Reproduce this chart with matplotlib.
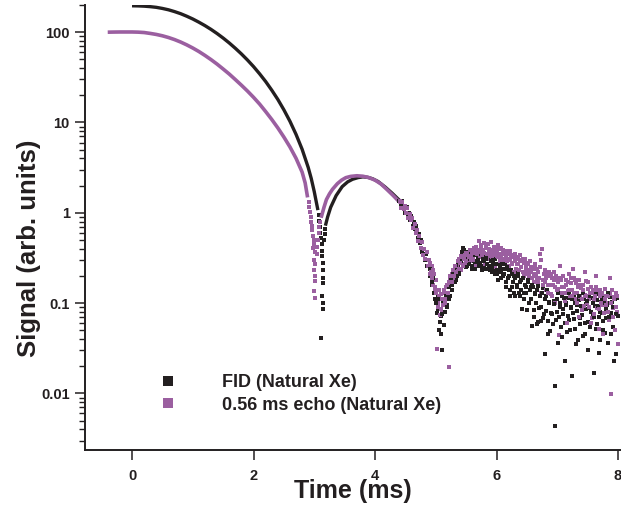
import matplotlib
matplotlib.use("Agg")
import matplotlib.pyplot as plt
from matplotlib.lines import Line2D

plt.rcParams['font.family'] = ['Liberation Sans', 'DejaVu Sans']
plt.rcParams['font.weight'] = 'bold'

BLACK = '#231f20'
PURPLE = '#9b5fa0'

# ---------------- FID (Natural Xe) ----------------
fid_line_t = [0.0, 0.1, 0.2, 0.3, 0.4, 0.5, 0.6, 0.7, 0.8, 0.9, 1.0, 1.1, 1.2, 1.3, 1.4, 1.5,
              1.6, 1.7, 1.8, 1.9, 2.0, 2.1, 2.2, 2.3, 2.4, 2.5, 2.6, 2.7, 2.8, 2.9, 2.95, 3.0,
              3.03, 3.06]
fid_line_y = [196, 195.4, 194.1, 191.7, 188.4, 183.2, 177.0, 169.0, 160.3, 150.3, 140.0, 129.1,
              118.3, 107.4, 96.6, 86.1, 76.0, 66.4, 57.5, 49.2, 41.6, 34.6, 28.4, 22.8, 18.0,
              13.8, 10.3, 7.38, 5.05, 3.18, 2.40, 1.71, 1.35, 1.07]

fid_dip_t = [3.07, 3.08, 3.09, 3.10, 3.11, 3.12, 3.12, 3.13, 3.14, 3.14, 3.15, 3.15,
             3.13, 3.15, 3.14, 3.11, 3.16, 3.17, 3.18]
fid_dip_y = [0.95, 0.82, 0.70, 0.60, 0.52, 0.45, 0.38, 0.33, 0.28, 0.23, 0.19, 0.166,
             0.12, 0.10, 0.085, 0.041, 0.50, 0.58, 0.66]

fid_lobe_t = [3.19, 3.22, 3.27, 3.36, 3.46, 3.55, 3.63, 3.72, 3.80, 3.88, 3.96, 4.05,
              4.17, 4.28, 4.39]
fid_lobe_y = [0.75, 0.90, 1.15, 1.55, 1.95, 2.20, 2.35, 2.45, 2.50, 2.47, 2.38, 2.22,
              1.92, 1.65, 1.40]

fid_noisy_t = [4.40, 4.42, 4.44, 4.46, 4.48, 4.50, 4.52, 4.54, 4.56, 4.58, 4.60, 4.62, 4.64, 4.66, 4.68,
               4.70, 4.72, 4.74, 4.76, 4.78, 4.80, 4.82, 4.84, 4.86, 4.88, 4.90, 4.92, 4.94, 4.96, 4.98,
               5.00, 5.02, 5.04, 5.06, 5.08, 5.10, 5.12, 5.14, 5.16, 5.18, 5.20, 5.22, 5.24, 5.26, 5.28,
               5.30, 5.32, 5.34, 5.36, 5.38, 5.40, 5.42, 5.44, 5.46, 5.48, 5.50, 5.52, 5.54, 5.56, 5.58,
               5.60, 5.62, 5.64, 5.66, 5.68, 5.70, 5.72, 5.74, 5.76, 5.78, 5.80, 5.82, 5.84, 5.86, 5.88,
               5.90, 5.92, 5.94, 5.96, 5.98, 6.00, 6.02, 6.04, 6.06, 6.08, 6.10, 6.12, 6.14, 6.16, 6.18,
               6.20, 6.22, 6.24, 6.26, 6.28, 6.30, 6.32, 6.34, 6.36, 6.38, 6.40, 6.42, 6.44, 6.46, 6.48,
               6.50, 6.52, 6.54, 6.56, 6.58, 6.60, 6.62, 6.64, 6.66, 6.68, 6.70, 6.72, 6.74, 6.76, 6.78,
               6.80, 6.82, 6.84, 6.86, 6.88, 6.90, 6.92, 6.94, 6.96, 6.98, 7.00, 7.02, 7.04, 7.06, 7.08,
               7.10, 7.12, 7.14, 7.16, 7.18, 7.20, 7.22, 7.24, 7.26, 7.28, 7.30, 7.32, 7.34, 7.36, 7.38,
               7.40, 7.42, 7.44, 7.46, 7.48, 7.50, 7.52, 7.54, 7.56, 7.58, 7.60, 7.62, 7.64, 7.66, 7.68,
               7.70, 7.72, 7.74, 7.76, 7.78, 7.80, 7.82, 7.84, 7.86, 7.88, 7.90, 7.92, 7.94, 7.96, 7.98,
               8.00]
fid_noisy_y = [1.35, 1.20, 1.35, 1.14, 1.20, 0.99, 1.15, 0.95, 1.00, 0.83, 0.93, 0.72, 0.79, 0.66, 0.72,
               0.53, 0.58, 0.46, 0.50, 0.37, 0.40, 0.30, 0.35, 0.26, 0.30, 0.20, 0.23, 0.16, 0.19, 0.11,
               0.14, 0.077, 0.12, 0.050, 0.072, 0.030, 0.10, 0.057, 0.13, 0.095, 0.13, 0.11, 0.17, 0.14, 0.23,
               0.18, 0.24, 0.18, 0.26, 0.21, 0.31, 0.24, 0.39, 0.39, 0.27, 0.33, 0.26, 0.35, 0.29, 0.36,
               0.24, 0.32, 0.27, 0.37, 0.26, 0.33, 0.28, 0.33, 0.23, 0.30, 0.25, 0.34, 0.24, 0.31, 0.26,
               0.31, 0.22, 0.27, 0.23, 0.31, 0.21, 0.27, 0.23, 0.28, 0.19, 0.24, 0.21, 0.27, 0.15, 0.24,
               0.20, 0.12, 0.23, 0.15, 0.20, 0.12, 0.21, 0.15, 0.22, 0.12, 0.18, 0.085, 0.19, 0.13, 0.15,
               0.084, 0.18, 0.10, 0.15, 0.056, 0.15, 0.084, 0.126, 0.058, 0.155, 0.088, 0.12, 0.063, 0.147, 0.075,
               0.027, 0.12, 0.063, 0.103, 0.049, 0.127, 0.076, 0.105, 0.0044, 0.065, 0.11, 0.036, 0.09, 0.054, 0.12,
               0.075, 0.023, 0.10, 0.048, 0.113, 0.065, 0.091, 0.0155, 0.077, 0.12, 0.052, 0.095, 0.039, 0.107, 0.068,
               0.085, 0.043, 0.11, 0.060, 0.098, 0.030, 0.089, 0.055, 0.115, 0.072, 0.017, 0.094, 0.051, 0.109, 0.070,
               0.039, 0.104, 0.078, 0.050, 0.12, 0.068, 0.095, 0.036, 0.117, 0.077, 0.104, 0.054, 0.09, 0.027, 0.113,
               0.072]

fid_noisy2_t = [4.91, 4.93, 4.95, 4.97, 4.99, 5.01, 5.03, 5.05, 5.07, 5.09, 5.11, 5.13, 5.15, 5.17, 5.19,
                5.21, 5.23, 5.25, 5.27, 5.29, 5.31, 5.33, 5.35, 5.37, 5.39, 5.41, 5.43, 5.45, 5.47, 5.49,
                5.51, 5.53, 5.55, 5.57, 5.59, 5.61, 5.63, 5.65, 5.67, 5.69, 5.71, 5.73, 5.75, 5.77, 5.79,
                5.81, 5.83, 5.85, 5.87, 5.89, 5.91, 5.93, 5.95, 5.97, 5.99, 6.01, 6.03, 6.05, 6.07, 6.09,
                6.11, 6.13, 6.15, 6.17, 6.19, 6.21, 6.23, 6.25, 6.27, 6.29, 6.31, 6.33, 6.35, 6.37, 6.39,
                6.41, 6.43, 6.45, 6.47, 6.49, 6.51, 6.53, 6.55, 6.57, 6.59, 6.61, 6.63, 6.65, 6.67, 6.69,
                6.71, 6.73, 6.75, 6.77, 6.79, 6.81, 6.83, 6.85, 6.87, 6.89, 6.91, 6.93, 6.95, 6.97, 6.99,
                7.01, 7.03, 7.05, 7.07, 7.09, 7.11, 7.13, 7.15, 7.17, 7.19, 7.21, 7.23, 7.25, 7.27, 7.29,
                7.31, 7.33, 7.35, 7.37, 7.39, 7.41, 7.43, 7.45, 7.47, 7.49, 7.51, 7.53, 7.55, 7.57, 7.59,
                7.61, 7.63, 7.65, 7.67, 7.69, 7.71, 7.73, 7.75, 7.77, 7.79, 7.81, 7.83, 7.85, 7.87, 7.89,
                7.91, 7.93, 7.95, 7.97, 7.99]
fid_noisy2_y = [0.24, 0.17, 0.19, 0.13, 0.15, 0.10, 0.085, 0.11, 0.062, 0.045, 0.075, 0.11, 0.08, 0.12, 0.09,
                0.15, 0.12, 0.19, 0.16, 0.21, 0.17, 0.25, 0.20, 0.28, 0.22, 0.29, 0.37, 0.41, 0.33, 0.25,
                0.31, 0.37, 0.27, 0.33, 0.26, 0.35, 0.29, 0.24, 0.34, 0.30, 0.27, 0.35, 0.26, 0.32, 0.29,
                0.24, 0.31, 0.27, 0.33, 0.23, 0.29, 0.25, 0.30, 0.21, 0.27, 0.23, 0.18, 0.26, 0.22, 0.27,
                0.20, 0.24, 0.17, 0.25, 0.19, 0.23, 0.14, 0.21, 0.17, 0.13, 0.19, 0.16, 0.20, 0.13, 0.17,
                0.14, 0.19, 0.11, 0.16, 0.13, 0.17, 0.10, 0.14, 0.11, 0.16, 0.07, 0.13, 0.10, 0.14, 0.062,
                0.12, 0.09, 0.13, 0.068, 0.11, 0.082, 0.14, 0.045, 0.10, 0.078, 0.12, 0.058, 0.097, 0.012, 0.08,
                0.13, 0.07, 0.10, 0.042, 0.085, 0.115, 0.06, 0.095, 0.072, 0.13, 0.05, 0.088, 0.11, 0.066, 0.10,
                0.035, 0.082, 0.12, 0.058, 0.093, 0.074, 0.13, 0.046, 0.087, 0.105, 0.062, 0.12, 0.08, 0.04, 0.10,
                0.07, 0.125, 0.058, 0.093, 0.028, 0.08, 0.115, 0.064, 0.10, 0.047, 0.085, 0.13, 0.07, 0.10, 0.045,
                0.09, 0.023, 0.11, 0.075, 0.12]

# ---------------- 0.56 ms echo (Natural Xe) ----------------
echo_line_t = [-0.40, -0.3, -0.2, -0.1, 0.0, 0.1, 0.2, 0.3, 0.4, 0.5, 0.6, 0.7, 0.8, 0.9, 1.0,
               1.1, 1.2, 1.3, 1.4, 1.5, 1.6, 1.7, 1.8, 1.9, 2.0, 2.1, 2.2, 2.3, 2.4, 2.5, 2.6,
               2.7, 2.8, 2.85, 2.89]
echo_line_y = [100, 100.3, 100.5, 100.5, 100.5, 100.1, 99.1, 96.9, 94.4, 91.2, 87.3, 82.8, 77.8,
               72.4, 66.8, 61.1, 55.3, 49.7, 44.3, 39.1, 34.4, 29.9, 25.9, 22.3, 19.0, 16.0, 13.2,
               10.8, 8.71, 6.89, 5.35, 4.01, 2.82, 2.14, 1.48]

echo_dip_t = [2.91, 2.92, 2.93, 2.94, 2.95, 2.96, 2.97, 2.98, 2.99, 3.00, 2.98, 3.01, 3.00, 3.02,
              3.00, 3.01, 3.02, 3.00, 3.01, 3.04, 3.05, 3.06, 3.07, 3.08, 3.10]
echo_dip_y = [1.30, 1.15, 1.02, 0.90, 0.80, 0.72, 0.64, 0.56, 0.50, 0.45, 0.41, 0.37, 0.30, 0.27,
              0.23, 0.20, 0.175, 0.135, 0.115, 0.35, 0.42, 0.50, 0.60, 0.70, 0.80]

echo_lobe_t = [3.12, 3.16, 3.20, 3.25, 3.30, 3.38, 3.45, 3.52, 3.60, 3.70, 3.80, 3.90, 4.00,
               4.10, 4.20, 4.30, 4.40]
echo_lobe_y = [0.92, 1.15, 1.40, 1.62, 1.82, 2.10, 2.30, 2.45, 2.53, 2.57, 2.54, 2.45, 2.30,
               2.08, 1.80, 1.55, 1.32]

echo_noisy_t = [4.41, 4.43, 4.45, 4.47, 4.49, 4.51, 4.53, 4.55, 4.57, 4.59, 4.61, 4.63, 4.65, 4.67, 4.69,
                4.71, 4.73, 4.75, 4.77, 4.79, 4.81, 4.83, 4.85, 4.87, 4.89, 4.91, 4.93, 4.95, 4.97, 4.99,
                5.01, 5.03, 5.05, 5.07, 5.09, 5.11, 5.13, 5.15, 5.17, 5.19, 5.21, 5.23, 5.25, 5.27, 5.29,
                5.31, 5.33, 5.35, 5.37, 5.39, 5.41, 5.43, 5.45, 5.47, 5.49, 5.51, 5.53, 5.55, 5.57, 5.59,
                5.61, 5.63, 5.65, 5.67, 5.69, 5.71, 5.73, 5.75, 5.77, 5.79, 5.81, 5.83, 5.85, 5.87, 5.89,
                5.91, 5.93, 5.95, 5.97, 5.99, 6.01, 6.03, 6.05, 6.07, 6.09, 6.11, 6.13, 6.15, 6.17, 6.19,
                6.21, 6.23, 6.25, 6.27, 6.29, 6.31, 6.33, 6.35, 6.37, 6.39, 6.41, 6.43, 6.45, 6.47, 6.49,
                6.51, 6.53, 6.55, 6.57, 6.59, 6.61, 6.63, 6.65, 6.67, 6.69, 6.71, 6.73, 6.75, 6.77, 6.79,
                6.81, 6.83, 6.85, 6.87, 6.89, 6.91, 6.93, 6.95, 6.97, 6.99, 7.01, 7.03, 7.05, 7.07, 7.09,
                7.11, 7.13, 7.15, 7.17, 7.19, 7.21, 7.23, 7.25, 7.27, 7.29, 7.31, 7.33, 7.35, 7.37, 7.39,
                7.41, 7.43, 7.45, 7.47, 7.49, 7.51, 7.53, 7.55, 7.57, 7.59, 7.61, 7.63, 7.65, 7.67, 7.69,
                7.71, 7.73, 7.75, 7.77, 7.79, 7.81, 7.83, 7.85, 7.87, 7.89, 7.91, 7.93, 7.95, 7.97, 7.99]
echo_noisy_y = [1.34, 1.14, 1.30, 1.10, 1.19, 1.00, 1.12, 0.87, 0.97, 0.83, 0.88, 0.68, 0.76, 0.60, 0.65,
                0.49, 0.55, 0.41, 0.47, 0.34, 0.40, 0.31, 0.37, 0.26, 0.30, 0.21, 0.26, 0.16, 0.21, 0.14,
                0.18, 0.10, 0.12, 0.074, 0.125, 0.080, 0.13, 0.10, 0.15, 0.12, 0.0195, 0.18, 0.16, 0.21, 0.18,
                0.25, 0.21, 0.26, 0.23, 0.31, 0.23, 0.31, 0.27, 0.36, 0.28, 0.34, 0.30, 0.37, 0.29, 0.36,
                0.31, 0.41, 0.26, 0.38, 0.34, 0.49, 0.32, 0.41, 0.35, 0.46, 0.27, 0.43, 0.31, 0.40, 0.34,
                0.47, 0.32, 0.39, 0.25, 0.40, 0.33, 0.44, 0.29, 0.41, 0.31, 0.36, 0.24, 0.38, 0.31, 0.36,
                0.26, 0.38, 0.28, 0.34, 0.22, 0.35, 0.27, 0.31, 0.23, 0.34, 0.25, 0.31, 0.20, 0.31, 0.23,
                0.28, 0.20, 0.29, 0.22, 0.25, 0.17, 0.26, 0.20, 0.24, 0.17, 0.25, 0.13, 0.40, 0.18, 0.23,
                0.14, 0.21, 0.16, 0.22, 0.126, 0.19, 0.16, 0.22, 0.10, 0.19, 0.145, 0.044, 0.19, 0.13, 0.20,
                0.15, 0.106, 0.18, 0.136, 0.21, 0.12, 0.166, 0.14, 0.19, 0.11, 0.165, 0.13, 0.18, 0.116, 0.147,
                0.084, 0.16, 0.124, 0.175, 0.10, 0.143, 0.11, 0.15, 0.069, 0.128, 0.108, 0.15, 0.089, 0.13, 0.052,
                0.138, 0.096, 0.119, 0.077, 0.143, 0.099, 0.119, 0.065, 0.126, 0.0098, 0.088, 0.118, 0.050, 0.13, 0.080]

echo_noisy2_t = [4.90, 4.92, 4.94, 4.96, 4.98, 5.00, 5.02, 5.04, 5.06, 5.08, 5.10, 5.12, 5.14, 5.16, 5.18,
                 5.20, 5.22, 5.24, 5.26, 5.28, 5.30, 5.32, 5.34, 5.36, 5.38, 5.40, 5.42, 5.44, 5.46, 5.48,
                 5.50, 5.52, 5.54, 5.56, 5.58, 5.60, 5.62, 5.64, 5.66, 5.68, 5.70, 5.72, 5.74, 5.76, 5.78,
                 5.80, 5.82, 5.84, 5.86, 5.88, 5.90, 5.92, 5.94, 5.96, 5.98, 6.00, 6.02, 6.04, 6.06, 6.08,
                 6.10, 6.12, 6.14, 6.16, 6.18, 6.20, 6.22, 6.24, 6.26, 6.28, 6.30, 6.32, 6.34, 6.36, 6.38,
                 6.40, 6.42, 6.44, 6.46, 6.48, 6.50, 6.52, 6.54, 6.56, 6.58, 6.60, 6.62, 6.64, 6.66, 6.68,
                 6.70, 6.72, 6.74, 6.76, 6.78, 6.80, 6.82, 6.84, 6.86, 6.88, 6.90, 6.92, 6.94, 6.96, 6.98,
                 7.00, 7.02, 7.04, 7.06, 7.08, 7.10, 7.12, 7.14, 7.16, 7.18, 7.20, 7.22, 7.24, 7.26, 7.28,
                 7.30, 7.32, 7.34, 7.36, 7.38, 7.40, 7.42, 7.44, 7.46, 7.48, 7.50, 7.52, 7.54, 7.56, 7.58,
                 7.60, 7.62, 7.64, 7.66, 7.68, 7.70, 7.72, 7.74, 7.76, 7.78, 7.80, 7.82, 7.84, 7.86, 7.88,
                 7.90, 7.92, 7.94, 7.96, 7.98, 8.00]
echo_noisy2_y = [0.28, 0.22, 0.19, 0.23, 0.15, 0.13, 0.031, 0.09, 0.14, 0.085, 0.11, 0.095, 0.14, 0.11, 0.16,
                 0.13, 0.17, 0.20, 0.17, 0.23, 0.20, 0.26, 0.22, 0.29, 0.24, 0.28, 0.33, 0.26, 0.31, 0.34,
                 0.29, 0.36, 0.32, 0.39, 0.33, 0.37, 0.30, 0.36, 0.42, 0.35, 0.39, 0.37, 0.44, 0.34, 0.39,
                 0.36, 0.41, 0.35, 0.45, 0.37, 0.33, 0.39, 0.36, 0.42, 0.34, 0.37, 0.32, 0.40, 0.35, 0.33,
                 0.39, 0.30, 0.35, 0.33, 0.29, 0.35, 0.30, 0.33, 0.27, 0.32, 0.29, 0.24, 0.32, 0.27, 0.30,
                 0.25, 0.29, 0.22, 0.28, 0.25, 0.21, 0.27, 0.23, 0.25, 0.19, 0.24, 0.21, 0.27, 0.18, 0.22,
                 0.19, 0.35, 0.30, 0.16, 0.21, 0.17, 0.19, 0.13, 0.20, 0.16, 0.21, 0.12, 0.18, 0.15, 0.20,
                 0.14, 0.17, 0.26, 0.18, 0.15, 0.20, 0.13, 0.16, 0.06, 0.17, 0.14, 0.19, 0.12, 0.24, 0.13,
                 0.18, 0.10, 0.15, 0.07, 0.16, 0.11, 0.14, 0.094, 0.22, 0.12, 0.17, 0.09, 0.13, 0.06, 0.14,
                 0.075, 0.12, 0.20, 0.14, 0.085, 0.12, 0.10, 0.13, 0.045, 0.11, 0.095, 0.12, 0.08, 0.19, 0.10,
                 0.14, 0.07, 0.11, 0.09, 0.12, 0.035]

legend_labels = ['FID (Natural Xe)', '0.56 ms echo (Natural Xe)']
x_ticks = [0, 2, 4, 6, 8]
y_ticks = [0.01, 0.1, 1, 10, 100]
y_ticklabels = ['0.01', '0.1', '1', '10', '100']

W, H = 621, 513
fig = plt.figure(figsize=(W / 100, H / 100), dpi=100)
ax = fig.add_axes([85 / W, 1 - 450 / H, 536 / W, 445 / H])

ms = 2.3
# smooth sections
ax.plot(fid_line_t, fid_line_y, '-', color=BLACK, lw=2.4, solid_capstyle='butt')
ax.plot(fid_dip_t, fid_dip_y, 's', color=BLACK, ms=ms, mew=0)
ax.plot(fid_lobe_t, fid_lobe_y, '-', color=BLACK, lw=2.4)
ax.plot(echo_line_t, echo_line_y, '-', color=PURPLE, lw=2.6, solid_capstyle='butt')
ax.plot(echo_dip_t, echo_dip_y, 's', color=PURPLE, ms=ms, mew=0)
ax.plot(echo_lobe_t, echo_lobe_y, '-', color=PURPLE, lw=2.6)
# noisy sections
ax.plot(fid_noisy_t, fid_noisy_y, 's', color=BLACK, ms=ms, mew=0)
ax.plot(echo_noisy_t, echo_noisy_y, 's', color=PURPLE, ms=ms, mew=0)
ax.plot(fid_noisy2_t, fid_noisy2_y, 's', color=BLACK, ms=ms, mew=0)
ax.plot(echo_noisy2_t, echo_noisy2_y, 's', color=PURPLE, ms=ms, mew=0)

ax.set_yscale('log')
ax.set_xlim(-0.774, 8.049)
ax.set_ylim(0.00236, 200)
ax.set_xticks(x_ticks)
ax.set_xticklabels([str(v) for v in x_ticks])
ax.set_yticks(y_ticks)
ax.set_yticklabels(y_ticklabels)
ax.yaxis.set_minor_locator(matplotlib.ticker.LogLocator(base=10, subs=[2, 3, 4, 5, 6, 7, 8, 9], numticks=20))
ax.yaxis.set_minor_formatter(matplotlib.ticker.NullFormatter())

for s in ['top', 'right']:
    ax.spines[s].set_visible(False)
for s in ['left', 'bottom']:
    ax.spines[s].set_linewidth(1.4)
    ax.spines[s].set_color(BLACK)

ax.tick_params(axis='both', which='major', direction='out', length=7, width=1.1,
               color=BLACK, labelsize=10.5, labelcolor=BLACK)
ax.tick_params(axis='x', which='major', pad=6.5)
ax.tick_params(axis='y', which='major', pad=4)
ax.tick_params(axis='y', which='minor', direction='out', length=4, width=1.0, color=BLACK)
for lab in ax.get_xticklabels() + ax.get_yticklabels():
    lab.set_fontweight('bold')

ax.set_xlabel('Time (ms)', fontsize=18, fontweight='bold', color=BLACK)
ax.set_ylabel('Signal (arb. units)', fontsize=18.5, fontweight='bold', color=BLACK)
ax.xaxis.set_label_coords(0.5, -0.066)
ax.yaxis.set_label_coords(-0.082, 0.454)

handles = [Line2D([], [], ls='none', marker='s', ms=7.5, mew=0, color=BLACK),
           Line2D([], [], ls='none', marker='s', ms=7.5, mew=0, color=PURPLE)]
leg = ax.legend(handles, legend_labels, loc='upper left',
                bbox_to_anchor=(159 / W, 1 - 374 / H), bbox_transform=fig.transFigure,
                frameon=False, fontsize=13, handlelength=1.0, handletextpad=2.5,
                labelspacing=0.32, borderpad=0, borderaxespad=0)
for t in leg.get_texts():
    t.set_fontweight('bold')
    t.set_color(BLACK)

fig.savefig('out.png', dpi=100)
